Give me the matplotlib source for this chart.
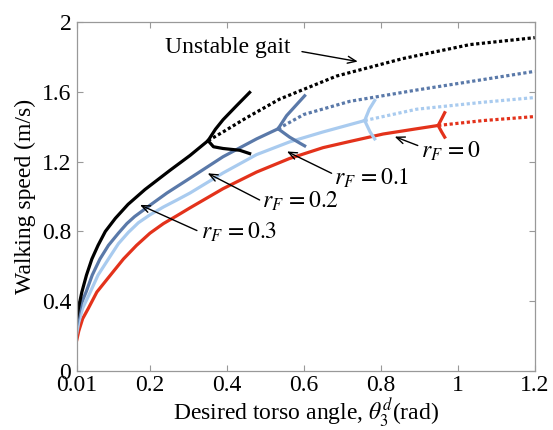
import matplotlib
matplotlib.use("Agg")
import matplotlib.pyplot as plt
from matplotlib import font_manager

# pick a Times-like serif that is actually installed
names = {f.name for f in font_manager.fontManager.ttflist}
serif = [n for n in ["Liberation Serif", "Times New Roman", "Nimbus Roman", "STIXGeneral", "DejaVu Serif"]
         if n in names]
plt.rcParams["font.family"] = "serif"
plt.rcParams["font.serif"] = serif + ["DejaVu Serif"]
plt.rcParams["mathtext.fontset"] = "stix"

# colours for r_F = 0.3, 0.2, 0.1, 0
c_black = "#000000"
c_dark = "#5a79a9"
c_light = "#a9cbef"
c_red = "#e3321b"

# stable branch (solid) up to the fork
x_03 = [0.01, 0.015, 0.023, 0.035, 0.049, 0.065, 0.084, 0.11, 0.143, 0.187, 0.252, 0.304, 0.351]
y_03 = [0.31, 0.37, 0.453, 0.55, 0.642, 0.72, 0.80, 0.875, 0.955, 1.04, 1.15, 1.235, 1.32]
x_02 = [0.01, 0.015, 0.022, 0.034, 0.05, 0.07, 0.092, 0.118, 0.14, 0.16, 0.2, 0.244, 0.304, 0.39, 0.477, 0.533]
y_02 = [0.27, 0.33, 0.39, 0.453, 0.55, 0.642, 0.72, 0.79, 0.845, 0.885, 0.95, 1.02, 1.105, 1.228, 1.33, 1.388]
x_01 = [0.01, 0.015, 0.025, 0.045, 0.065, 0.092, 0.118, 0.144, 0.17, 0.2, 0.235, 0.27, 0.304, 0.39, 0.477,
        0.563, 0.65, 0.758]
y_01 = [0.22, 0.28, 0.36, 0.453, 0.55, 0.642, 0.73, 0.795, 0.85, 0.895, 0.94, 0.98, 1.02, 1.135, 1.24,
        1.313, 1.37, 1.435]
x_00 = [0.01, 0.015, 0.025, 0.04, 0.062, 0.09, 0.131, 0.165, 0.2, 0.235, 0.27, 0.304, 0.39, 0.477, 0.563,
        0.65, 0.719, 0.806, 0.893, 0.949]
y_00 = [0.18, 0.23, 0.30, 0.36, 0.453, 0.53, 0.642, 0.72, 0.79, 0.845, 0.89, 0.935, 1.045, 1.14, 1.218,
        1.28, 1.315, 1.358, 1.388, 1.407]

# fork branches
up_03 = ([0.351, 0.37, 0.39, 0.425, 0.459], [1.32, 1.385, 1.44, 1.52, 1.596])
lo_03 = ([0.351, 0.365, 0.39, 0.433, 0.459], [1.32, 1.285, 1.275, 1.265, 1.246])
up_02 = ([0.533, 0.555, 0.602], [1.388, 1.463, 1.577])
lo_02 = ([0.533, 0.563, 0.59, 0.602], [1.388, 1.34, 1.305, 1.29])
up_01 = ([0.758, 0.77, 0.784], [1.435, 1.50, 1.55])
lo_01 = ([0.758, 0.772, 0.784], [1.435, 1.37, 1.33])
up_00 = ([0.949, 0.958, 0.966], [1.407, 1.445, 1.48])
lo_00 = ([0.949, 0.958, 0.966], [1.407, 1.37, 1.34])

# unstable continuation (dotted)
xu_03 = [0.351, 0.39, 0.45, 0.537, 0.685, 0.857, 1.031, 1.2]
yu_03 = [1.32, 1.37, 1.45, 1.558, 1.69, 1.79, 1.87, 1.91]
xu_02 = [0.533, 0.6, 0.719, 0.893, 1.066, 1.2]
yu_02 = [1.388, 1.47, 1.545, 1.61, 1.67, 1.717]
xu_01 = [0.758, 0.893, 1.066, 1.2]
yu_01 = [1.435, 1.50, 1.54, 1.567]
xu_00 = [0.949, 1.066, 1.2]
yu_00 = [1.407, 1.435, 1.458]

fig = plt.figure(figsize=(5.53, 4.30), dpi=100)
ax = fig.add_axes([0.139, 0.137, 0.828, 0.812])

lw = 2.3
dots = (0, (1, 0.8))
curves = [
    (x_00, y_00, up_00, lo_00, xu_00, yu_00, c_red),
    (x_01, y_01, up_01, lo_01, xu_01, yu_01, c_light),
    (x_02, y_02, up_02, lo_02, xu_02, yu_02, c_dark),
    (x_03, y_03, up_03, lo_03, xu_03, yu_03, c_black),
]
for xs, ys, up, lo, xu, yu, col in curves:
    ax.plot(xu, yu, color=col, lw=lw, linestyle=dots)
    ax.plot(xs, ys, color=col, lw=lw, solid_joinstyle="round")
    ax.plot(up[0], up[1], color=col, lw=lw, solid_joinstyle="round")
    ax.plot(lo[0], lo[1], color=col, lw=lw, solid_joinstyle="round")

fs = 17
arrow = dict(arrowstyle="->,head_length=0.6,head_width=0.25", color="black", lw=1.0,
             shrinkA=0, shrinkB=0)
ax.annotate("", xy=(0.74, 1.773), xytext=(0.595, 1.83), arrowprops=arrow)
ax.text(0.238, 1.853, "Unstable gait", fontsize=fs, va="center", ha="left")

ax.annotate("", xy=(0.836, 1.343), xytext=(0.896, 1.292), arrowprops=arrow)
ax.text(0.905, 1.258, r"$r_F\,=0$", fontsize=fs, va="center", ha="left")

ax.annotate("", xy=(0.556, 1.258), xytext=(0.672, 1.133), arrowprops=arrow)
ax.text(0.678, 1.105, r"$r_F\,=0.1$", fontsize=fs, va="center", ha="left")

ax.annotate("", xy=(0.35, 1.133), xytext=(0.485, 0.98), arrowprops=arrow)
ax.text(0.49, 0.975, r"$r_F\,=0.2$", fontsize=fs, va="center", ha="left")

ax.annotate("", xy=(0.174, 0.952), xytext=(0.322, 0.805), arrowprops=arrow)
ax.text(0.333, 0.793, r"$r_F\,=0.3$", fontsize=fs, va="center", ha="left")

ax.set_xlim(0.01, 1.2)
ax.set_ylim(0, 2)
ax.set_xticks([0.01, 0.2, 0.4, 0.6, 0.8, 1.0, 1.2])
ax.set_xticklabels(["0.01", "0.2", "0.4", "0.6", "0.8", "1", "1.2"])
ax.set_yticks([0, 0.4, 0.8, 1.2, 1.6, 2])
ax.set_yticklabels(["0", "0.4", "0.8", "1.2", "1.6", "2"])
ax.tick_params(direction="in", top=True, right=True, length=4, width=0.8,
               color="#999999", labelsize=fs, pad=4)
ax.tick_params(axis="x", pad=3)
for s in ax.spines.values():
    s.set_color("#999999")
    s.set_linewidth(0.9)

ax.set_xlabel(r"Desired torso angle, $\theta_3^d$(rad)", fontsize=fs, labelpad=0)
ax.set_ylabel("Walking speed (m/s)", fontsize=fs, labelpad=4)

fig.savefig("out.png", dpi=100)
